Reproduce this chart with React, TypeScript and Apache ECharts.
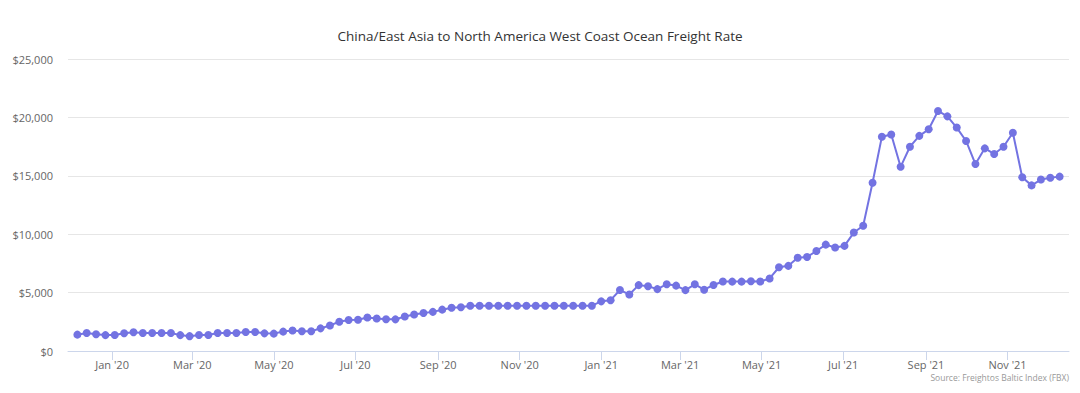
import React, { useEffect, useRef } from "react";
import * as echarts from "echarts";

const chartTitle = "China/East Asia to North America West Coast Ocean Freight Rate";
const sourceNote = "Source: Freightos Baltic Index (FBX)";

// Weekly FBX readings (USD per FEU), first reading Fri 6 Dec 2019, one per week
const firstWeek = { year: 2019, month: 11, day: 6 };
const rates = [
  1400, 1540, 1440, 1360, 1370, 1520, 1610, 1540, 1540, 1540,
  1540, 1360, 1270, 1370, 1370, 1540, 1540, 1540, 1620, 1620,
  1510, 1490, 1660, 1760, 1690, 1690, 1940, 2180, 2510, 2650,
  2670, 2870, 2780, 2720, 2710, 2950, 3120, 3250, 3350, 3540,
  3710, 3740, 3880, 3880, 3880, 3880, 3880, 3880, 3880, 3880,
  3880, 3880, 3880, 3880, 3880, 3880, 4250, 4350, 5220, 4840,
  5640, 5550, 5300, 5720, 5600, 5210, 5710, 5250, 5650, 5950,
  5940, 5940, 5970, 5950, 6210, 7170, 7290, 7980, 8050, 8560,
  9110, 8860, 9000, 10140, 10720, 14410, 18350, 18540, 15770, 17490,
  18420, 18980, 20550, 20090, 19130, 17980, 16010, 17350, 16870, 17490,
  18690, 14880, 14180, 14680, 14830, 14930,
];

// x-axis tick labels (first of month)
const tickMonths: [number, number][] = [
  [2020, 0], [2020, 2], [2020, 4], [2020, 6], [2020, 8], [2020, 10],
  [2021, 0], [2021, 2], [2021, 4], [2021, 6], [2021, 8], [2021, 10],
];
const monthNames = ["Jan", "Feb", "Mar", "Apr", "May", "Jun", "Jul", "Aug", "Sep", "Oct", "Nov", "Dec"];
const yTicks = { min: 0, max: 25000, interval: 5000 };

const DAY = 86400000;

export default function App() {
  const ref = useRef<HTMLDivElement>(null);
  useEffect(() => {
    document.body.style.margin = "0";
    if (!ref.current) return;
    const chart = echarts.init(ref.current, null, { renderer: "svg" });
    const start = Date.UTC(firstWeek.year, firstWeek.month, firstWeek.day);
    const data = rates.map((v, i) => [start + i * 7 * DAY, v]);
    const tickValues = tickMonths.map(([y, m]) => Date.UTC(y, m, 1));
    const xMin = start - 7 * DAY;
    const xMax = start + rates.length * 7 * DAY;
    const fontFamily = "'Open Sans', 'DejaVu Sans', sans-serif";

    chart.setOption({
      animation: false,
      backgroundColor: "#ffffff",
      title: {
        text: chartTitle,
        left: "center",
        top: 24,
        textStyle: { fontSize: 13.5, fontWeight: "normal", color: "#333333", fontFamily },
      },
      graphic: [
        {
          type: "text",
          right: 11,
          top: 373,
          style: { text: sourceNote, fontSize: 8.5, fill: "#999999", fontFamily },
        },
      ],
      grid: { left: 68, right: 11, top: 59, bottom: 42, containLabel: false },
      xAxis: {
        type: "value",
        min: xMin,
        max: xMax,
        axisLine: { show: true, lineStyle: { color: "#ccd6eb", width: 1 } },
        axisTick: {
          show: true,
          length: 9,
          customValues: tickValues,
          lineStyle: { color: "#ccd6eb" },
        },
        axisLabel: {
          customValues: tickValues,
          color: "#666666",
          fontSize: 11,
          margin: 8,
          fontFamily,
          showMinLabel: true,
          showMaxLabel: true,
          formatter: (v: number) => {
            const d = new Date(v);
            return `${monthNames[d.getUTCMonth()]} '${String(d.getUTCFullYear()).slice(2)}`;
          },
        },
        splitLine: { show: false },
      },
      yAxis: {
        type: "value",
        min: yTicks.min,
        max: yTicks.max,
        interval: yTicks.interval,
        axisLine: { show: false },
        axisTick: { show: false },
        axisLabel: {
          color: "#666666",
          fontSize: 11,
          margin: 15,
          fontFamily,
          formatter: (v: number) => "$" + v.toLocaleString("en-US"),
        },
        splitLine: { lineStyle: { color: "#e6e6e6", width: 1 } },
      },
      series: [
        {
          type: "line",
          data,
          symbol: "circle",
          symbolSize: 8,
          showSymbol: true,
          lineStyle: { color: "#7373e2", width: 2 },
          itemStyle: { color: "#7373e2" },
        },
      ],
    });
    return () => chart.dispose();
  }, []);
  return <div ref={ref} style={{ width: 1080, height: 393 }} />;
}
